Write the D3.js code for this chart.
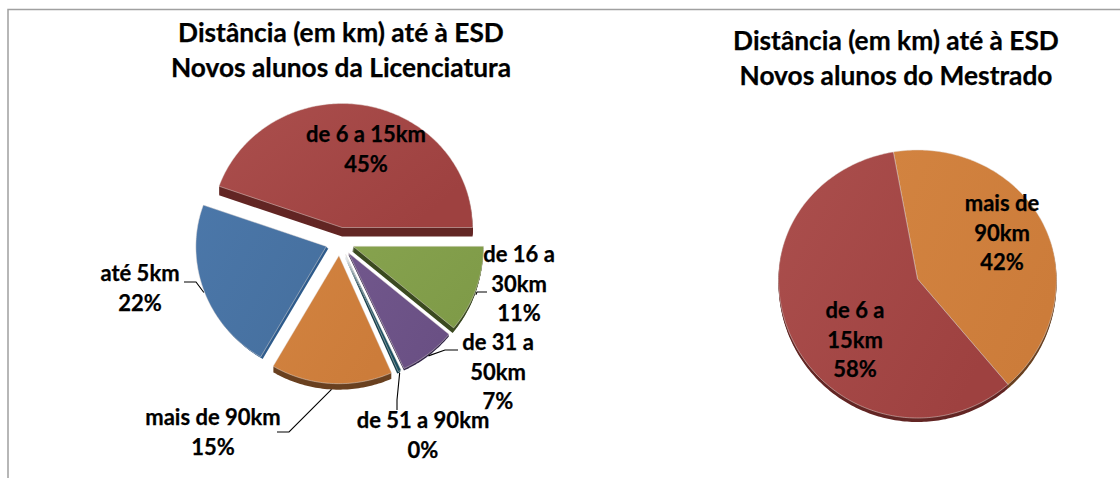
<!DOCTYPE html>
<html>
<head>
<meta charset="utf-8">
<script src="https://cdn.jsdelivr.net/npm/d3@7"></script>
<style>
  html, body { margin: 0; padding: 0; background: #fff; }
  svg { display: block; }
  text { font-family: Lato, "Open Sans", sans-serif; font-weight: 700; fill: #000; stroke: #000; stroke-width: 0.25; text-anchor: middle; }
</style>
</head>
<body>
<div id="chart"></div>
<script>
const WIDTH = 1120;
const HEIGHT = 478;

// Licenciatura
const licCategories = ["até 5km", "de 6 a 15km", "de 16 a 30km", "de 31 a 50km", "de 51 a 90km", "mais de 90km"];
const licValues = [22, 44.6, 11, 7, 0.4, 15];
const licLabels = ["22%", "45%", "11%", "7%", "0%", "15%"];

// Mestrado
const mesCategories = ["mais de 90km", "de 6 a 15km"];
const mesValues = [41.5, 58.5];
const mesLabels = ["42%", "58%"];

const titleLic = ["Distância (em km) até à ESD", "Novos alunos da Licenciatura"];
const titleMes = ["Distância (em km) até à ESD", "Novos alunos do Mestrado"];

const COLORS = {
  "até 5km": { light: "#4b77a9", dark: "#46709f", wall: "#2f5c8c" },
  "de 6 a 15km": { light: "#ab4f4d", dark: "#9e4140", wall: "#632624" },
  "de 16 a 30km": { light: "#86a24e", dark: "#7f9b48", wall: "#3b4a20" },
  "de 31 a 50km": { light: "#71578c", dark: "#6a5084", wall: "#33264a" },
  "de 51 a 90km": { light: "#1f5a6c", dark: "#1b5060", wall: "#173f4c" },
  "mais de 90km": { light: "#d28340", dark: "#cc7c3a", wall: "#6a4120" }
};

// side wall of each exploded slice: how far it shows, in px
const LIC_WALLS = {
  "até 5km": [2, 2],
  "de 6 a 15km": [0, 9],
  "de 16 a 30km": [-1, 5],
  "de 31 a 50km": [0, 2],
  "de 51 a 90km": [-1, 2],
  "mais de 90km": [0, 6]
};

// label placement: centre x, first baseline, lines, leader elbow and end
const LIC_PLACES = {
  "até 5km": { x: 140, y: 281, lines: ["até 5km"], elbow: [196, 282], end: [184, 282] },
  "de 6 a 15km": { x: 366, y: 142, lines: ["de 6 a 15km"] },
  "de 16 a 30km": { x: 519, y: 262, lines: ["de 16 a", "30km"], elbow: [477, 292], end: [487, 292] },
  "de 31 a 50km": { x: 498, y: 350, lines: ["de 31 a", "50km"], elbow: [445, 350], end: [458, 350] },
  "de 51 a 90km": { x: 423, y: 428, lines: ["de 51 a 90km"], elbow: [397, 400], end: [397, 410] },
  "mais de 90km": { x: 213, y: 425, lines: ["mais de 90km"], elbow: [289, 432], end: [277, 432] }
};
const MES_PLACES = {
  "mais de 90km": { x: 1002, y: 211, lines: ["mais de", "90km"] },
  "de 6 a 15km": { x: 855, y: 318, lines: ["de 6 a", "15km"] }
};

const LINE_GAP = 29.6;

const svg = d3.select("#chart").append("svg")
  .attr("width", WIDTH)
  .attr("height", HEIGHT)
  .attr("viewBox", `0 0 ${WIDTH} ${HEIGHT}`);

const defs = svg.append("defs");
Object.entries(COLORS).forEach(([name, c], i) => {
  const grad = defs.append("linearGradient")
    .attr("id", `fill${i}`)
    .attr("x1", 0).attr("y1", 0).attr("x2", 1).attr("y2", 0.6);
  grad.append("stop").attr("offset", 0).attr("stop-color", c.light);
  grad.append("stop").attr("offset", 1).attr("stop-color", c.dark);
  c.fill = `url(#fill${i})`;
});

// outer frame, only top and left show
svg.append("path")
  .attr("d", `M8,${HEIGHT}V9.5H${WIDTH}`)
  .attr("fill", "none")
  .attr("stroke", "#a0a0a0")
  .attr("stroke-width", 1.5);

// slightly perspective pie: near half is taller than the far half
function slicePath(d, o) {
  const step = Math.PI / 180;
  const n = Math.max(1, Math.ceil((d.endAngle - d.startAngle) / step));
  const pts = [[0, 0]];
  d3.range(n + 1).forEach((i) => pts.push(project(d.startAngle + (d.endAngle - d.startAngle) * i / n, o)));
  return d3.line()(pts) + "Z";
}

function project(a, o) {
  const c = Math.cos(a);
  return [o.rx * Math.sin(a), -c * (c > 0 ? o.ryFar : o.ryNear)];
}

function drawPie(cfg) {
  const pie = d3.pie().sort(null).startAngle(cfg.start).endAngle(cfg.start + 2 * Math.PI);
  const arcs = pie(cfg.values);
  const g = svg.append("g");

  const slices = arcs.map((d, i) => {
    const name = cfg.categories[i];
    const mid = (d.startAngle + d.endAngle) / 2;
    return {
      d, name, mid,
      ox: cfg.cx + cfg.explode * Math.sin(mid),
      oy: cfg.cy - cfg.explode * Math.cos(mid),
      wall: cfg.walls ? cfg.walls[name] : cfg.wall
    };
  });

  // walls first, so the tops sit over them
  slices.forEach((s) => {
    const steps = Math.max(Math.abs(s.wall[0]), Math.abs(s.wall[1]));
    d3.range(steps, 0, -1).forEach((k) => {
      g.append("path")
        .attr("d", slicePath(s.d, cfg))
        .attr("transform", `translate(${s.ox + s.wall[0] * k / steps},${s.oy + s.wall[1] * k / steps})`)
        .attr("fill", COLORS[s.name].wall);
    });
  });

  slices.forEach((s) => {
    g.append("path")
      .attr("d", slicePath(s.d, cfg))
      .attr("transform", `translate(${s.ox},${s.oy})`)
      .attr("fill", COLORS[s.name].fill)
      .attr("stroke", "#e4dcd8")
      .attr("stroke-width", 0.6)
      .attr("stroke-opacity", 0.8);
  });

  slices.forEach((s, i) => {
    const p = cfg.places[s.name];
    if (p.elbow) {
      const edge = project(s.mid, cfg);
      const from = [s.ox + edge[0], s.oy + edge[1] + s.wall[1]];
      svg.append("path")
        .attr("d", d3.line()([from, p.elbow, p.end]))
        .attr("fill", "none")
        .attr("stroke", "#000")
        .attr("stroke-width", 1.1);
    }
    const t = svg.append("text").attr("font-size", 22);
    p.lines.concat(cfg.labels[i]).forEach((line, k) => {
      t.append("tspan").attr("x", p.x).attr("y", p.y + k * LINE_GAP).text(line);
    });
  });
}

function drawTitle(lines, x, y) {
  const t = svg.append("text").attr("font-size", 26.3);
  lines.forEach((line, k) => {
    t.append("tspan").attr("x", x).attr("y", y + k * 35).text(line);
  });
}

drawPie({
  categories: licCategories, values: licValues, labels: licLabels, places: LIC_PLACES,
  cx: 339.7, cy: 241.5, explode: 14.2,
  rx: 130.5, ryFar: 124, ryNear: 128,
  start: (90 - (22 + 44.6) / 100 * 360) * Math.PI / 180,
  walls: LIC_WALLS
});

drawPie({
  categories: mesCategories, values: mesValues, labels: mesLabels, places: MES_PLACES,
  cx: 917.5, cy: 279, explode: 0,
  rx: 139, ryFar: 129, ryNear: 139,
  start: -10 * Math.PI / 180,
  wall: [0, 4]
});

drawTitle(titleLic, 341, 42);
drawTitle(titleMes, 896, 50);
</script>
</body>
</html>
